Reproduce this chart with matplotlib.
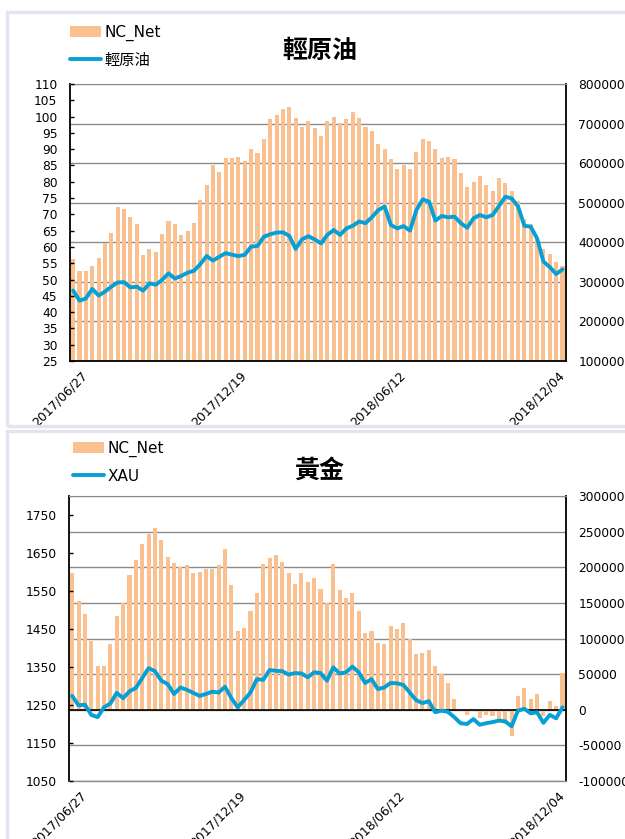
import numpy as np
import pandas as pd
import matplotlib
matplotlib.use('Agg')
import matplotlib.pyplot as plt
from matplotlib.patches import Rectangle
import matplotlib.transforms as mtransforms

plt.rcParams['font.family'] = ['DejaVu Sans', 'Noto Sans CJK TC']

# weekly COT dates
dates = pd.date_range('2017-06-13', periods=78, freq='7D')
tick_dates = ['2017/06/27', '2017/12/19', '2018/06/12', '2018/12/04']

oil_net = [359, 328, 328, 341, 360, 398, 423, 489, 483, 464,
           445, 367, 382, 375, 421, 455, 445, 418, 429, 449,
           506, 546, 596, 578, 613, 613, 616, 605, 635, 626,
           660, 711, 721, 736, 742, 714, 691, 707, 689, 669,
           707, 717, 701, 711, 729, 714, 691, 682, 648, 635,
           610, 584, 596, 584, 629, 660, 657, 635, 613, 616,
           610, 574, 540, 552, 568, 546, 530, 562, 549, 530,
           505, 458, 445, 410, 384, 371, 351, 340]
oil_net = [v * 1000 for v in oil_net]

oil_price = [46.6, 43.5, 44.2, 47.1, 45.1, 46.3, 47.8, 49.1, 49.2, 47.6,
             47.8, 46.6, 48.8, 48.4, 49.9, 51.9, 50.3, 51.1, 52.1, 52.7,
             54.7, 57.2, 55.8, 57.0, 58.1, 57.6, 57.2, 57.6, 60.1, 60.3,
             63.1, 63.9, 64.4, 64.5, 63.4, 59.4, 62.3, 63.3, 62.3, 61.1,
             63.7, 65.2, 63.7, 65.7, 66.5, 67.8, 67.3, 69.1, 71.3, 72.4,
             66.7, 65.7, 66.4, 65.0, 71.3, 74.6, 73.9, 68.1, 69.5, 69.1,
             69.3, 67.3, 65.9, 68.8, 69.8, 69.1, 69.8, 72.6, 75.4, 74.9,
             72.4, 66.5, 66.2, 62.6, 55.5, 53.8, 51.7, 53.1]

gold_net = [192, 152, 134, 96, 62, 62, 92, 131, 150, 189,
            210, 233, 247, 255, 238, 215, 206, 201, 203, 192,
            194, 197, 197, 203, 226, 175, 110, 115, 138, 164,
            205, 213, 217, 208, 192, 177, 192, 180, 185, 170,
            150, 205, 168, 157, 164, 138, 108, 110, 94, 92,
            117, 113, 122, 99, 78, 80, 84, 61, 50, 38,
            15, -1.3, -6.9, -2.2, -12, -6.9, -8.8, -13, -20, -37,
            20, 31, 15, 22, -8.8, 12, 5, 52]
gold_net = [v * 1000 for v in gold_net]

gold_price = [1274, 1249, 1251, 1224, 1218, 1244, 1254, 1282, 1268, 1286,
              1295, 1321, 1347, 1339, 1314, 1305, 1279, 1296, 1290, 1282,
              1274, 1279, 1285, 1283, 1298, 1268, 1244, 1263, 1283, 1318,
              1316, 1342, 1340, 1339, 1330, 1334, 1333, 1323, 1336, 1334,
              1314, 1349, 1333, 1336, 1351, 1336, 1308, 1318, 1292, 1296,
              1308, 1307, 1303, 1283, 1263, 1255, 1260, 1231, 1235, 1232,
              1218, 1202, 1200, 1213, 1198, 1202, 1205, 1209, 1207, 1194,
              1235, 1240, 1228, 1231, 1203, 1224, 1215, 1244]

BAR_C = '#fbc08f'
LINE_C = '#07a0d4'
GRID_C = '#8c8c8c'

fig = plt.figure(figsize=(6.25, 8.39), dpi=100)

# card outlines
for y0, y1 in [(12, 426), (431, 850)]:
    fig.patches.append(Rectangle((7 / 625, 1 - y1 / 839), 1, (y1 - y0) / 839,
                                 transform=fig.transFigure, fill=False,
                                 edgecolor='#e6e3f1', lw=2.5))


def panel(rect, title, title_y, net, price, name, llim, lticks, rlim, rticks,
          base, bottom_black, leg_anchor):
    x = np.arange(len(dates))
    axb = fig.add_axes(rect)
    axl = axb.twinx()
    axb.yaxis.tick_right()

    heights = [v - base for v in net]
    bars = axb.bar(x, heights, bottom=base, width=0.64, color=BAR_C, zorder=2)
    axb.set_ylim(*rlim)
    axb.set_yticks(rticks)
    axb.set_yticklabels([str(t) for t in rticks])
    axb.set_axisbelow(True)
    axb.grid(axis='y', color=GRID_C, lw=1)
    axb.tick_params(axis='y', length=0, pad=9, labelsize=8.8)
    if base != rlim[0]:
        axb.axhline(base, color='black', lw=1.2, zorder=3)

    line, = axl.plot(x, price, color=LINE_C, lw=2.8, solid_joinstyle='round',
                     solid_capstyle='round', zorder=4)
    axl.set_ylim(*llim)
    axl.set_yticks(lticks)
    axl.yaxis.tick_left()
    axl.tick_params(axis='y', direction='in', length=3, width=1, pad=9,
                    labelsize=8.8)
    for s in axl.spines.values():
        s.set_visible(False)

    axb.set_xlim(-0.5, len(dates) - 0.5)
    labels = dates.strftime('%Y/%m/%d')
    pos = [i for i, d in enumerate(labels) if d in tick_dates]
    axb.set_xticks(pos)
    axb.set_xticklabels([labels[i] for i in pos], rotation=45, ha='right',
                        fontsize=9)
    axb.tick_params(axis='x', length=0, pad=6)
    off = mtransforms.ScaledTranslation(4 / 100, 0, fig.dpi_scale_trans)
    for lab in axb.get_xticklabels():
        lab.set_transform(lab.get_transform() + off)

    axb.spines['left'].set_color('black')
    axb.spines['right'].set_color('black')
    axb.spines['left'].set_linewidth(1.3)
    axb.spines['right'].set_linewidth(1.3)
    axb.spines['top'].set_color(GRID_C)
    axb.spines['bottom'].set_color('black' if bottom_black else GRID_C)
    axb.spines['bottom'].set_linewidth(1.3 if bottom_black else 1)

    fig.text(0.511, title_y, title, ha='center', va='center', fontsize=18,
             fontweight='bold')
    fig.legend([bars, line], ['NC_Net', name], loc='upper left',
               bbox_to_anchor=leg_anchor, frameon=False, fontsize=11,
               handlelength=2.0, handletextpad=0.25, labelspacing=0.75,
               borderpad=0, borderaxespad=0)


panel([70 / 625, 1 - 361 / 839, 495.7 / 625, 277 / 839], '輕原油', 1 - 51 / 839,
      oil_net, oil_price, '輕原油', (25, 110), list(range(25, 111, 5)),
      (100000, 800000), list(range(100000, 800001, 100000)), 100000, True,
      (70 / 625, 1 - 25 / 839))

panel([69 / 625, 1 - 781 / 839, 496.7 / 625, 285 / 839], '黃金', 1 - 471 / 839,
      gold_net, gold_price, 'XAU', (1050, 1800), list(range(1050, 1751, 100)),
      (-100000, 300000), list(range(-100000, 300001, 50000)), 0, False,
      (73 / 625, 1 - 441 / 839))

fig.savefig('out.png', dpi=100)
